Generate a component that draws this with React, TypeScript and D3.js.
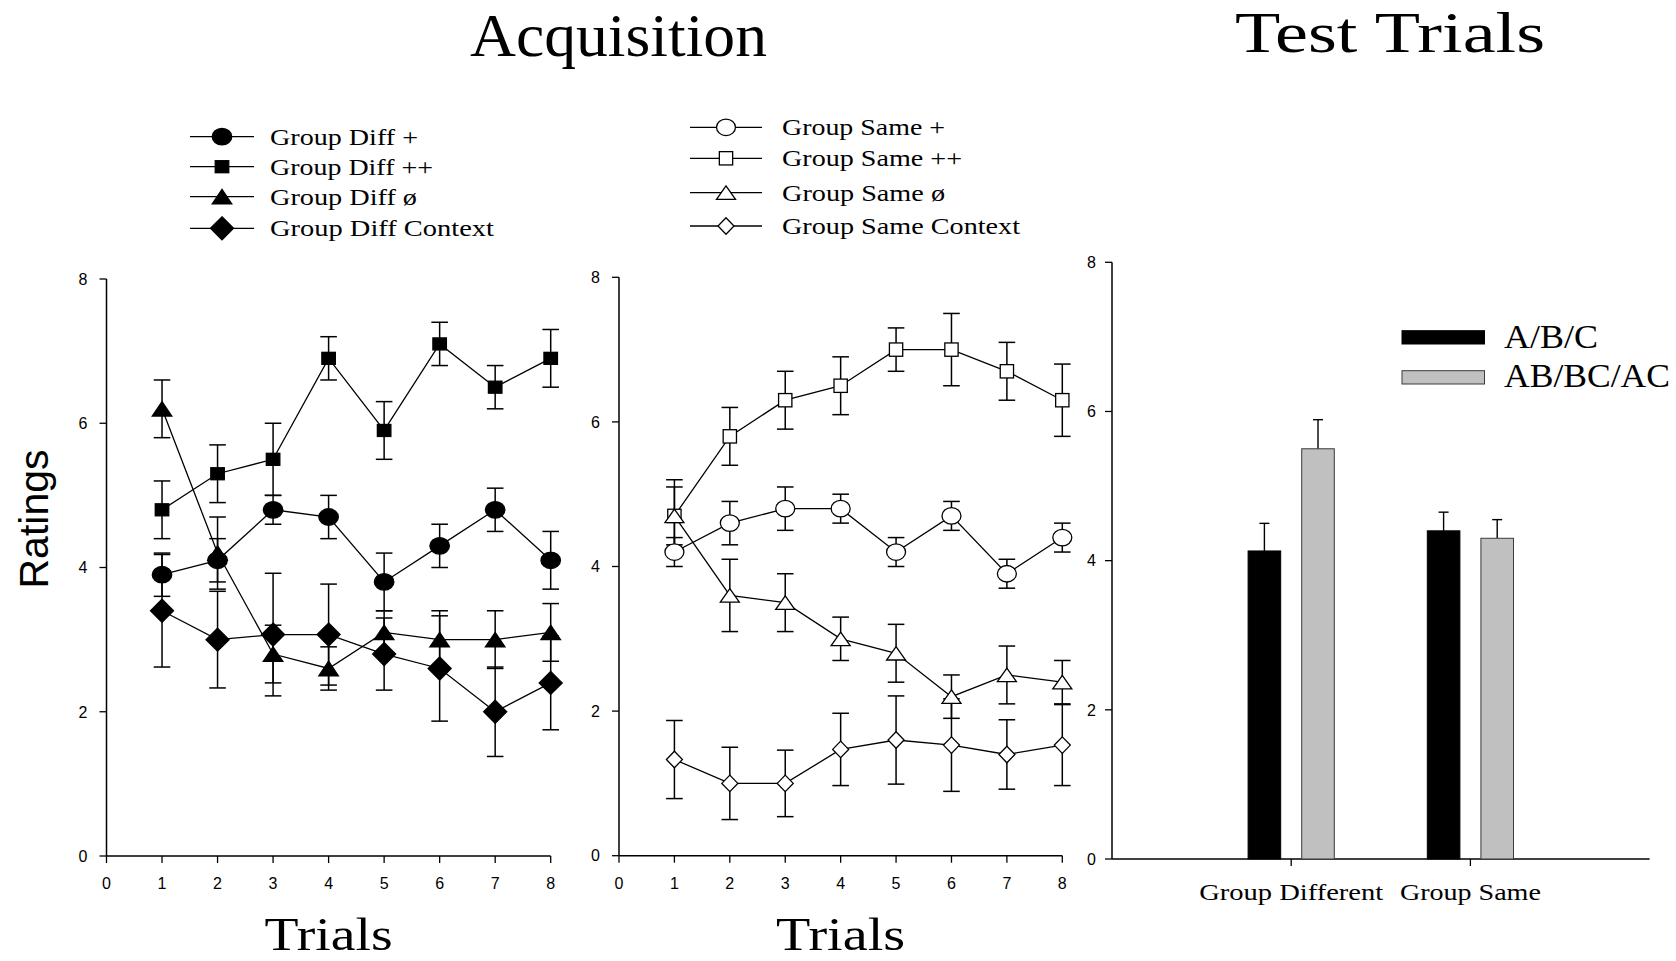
import React from 'react'
import * as d3 from 'd3'

// ---- data ----
const trials = [1, 2, 3, 4, 5, 6, 7, 8]
const trialTicks = [0, 1, 2, 3, 4, 5, 6, 7, 8]
const ratingTicks = [0, 2, 4, 6, 8]

const diffPlus = [3.9, 4.1, 4.8, 4.7, 3.8, 4.3, 4.8, 4.1]
const diffPlusErr = [0.3, 0.3, 0.2, 0.3, 0.4, 0.3, 0.3, 0.4]
const diffPlusPlus = [4.8, 5.3, 5.5, 6.9, 5.9, 7.1, 6.5, 6.9]
const diffPlusPlusErr = [0.4, 0.4, 0.5, 0.3, 0.4, 0.3, 0.3, 0.4]
const diffNone = [6.2, 4.2, 2.8, 2.6, 3.1, 3.0, 3.0, 3.1]
const diffNoneErr = [0.4, 0.5, 0.4, 0.3, 0.3, 0.4, 0.4, 0.4]
const diffContext = [3.4, 3.0, 3.07, 3.07, 2.8, 2.6, 2.0, 2.4]
const diffContextErr = [0.78, 0.67, 0.85, 0.7, 0.5, 0.73, 0.62, 0.65]

const samePlus = [4.2, 4.6, 4.8, 4.8, 4.2, 4.7, 3.9, 4.4]
const samePlusErr = [0.2, 0.3, 0.3, 0.2, 0.2, 0.2, 0.2, 0.2]
const samePlusPlus = [4.7, 5.8, 6.3, 6.5, 7.0, 7.0, 6.7, 6.3]
const samePlusPlusErr = [0.4, 0.4, 0.4, 0.4, 0.3, 0.5, 0.4, 0.5]
const sameNone = [4.7, 3.6, 3.5, 3.0, 2.8, 2.2, 2.5, 2.4]
const sameNoneErr = [0.5, 0.5, 0.4, 0.3, 0.4, 0.3, 0.4, 0.3]
const sameContext = [1.33, 1.0, 1.0, 1.47, 1.6, 1.53, 1.4, 1.53]
const sameContextErr = [0.54, 0.5, 0.46, 0.5, 0.61, 0.64, 0.48, 0.56]

const testGroups = ['Group Different', 'Group Same']
const testSeries = ['A/B/C', 'AB/BC/AC']
const testABC = [4.13, 4.4]
const testABCErr = [0.37, 0.25]
const testABBCAC = [5.5, 4.3]
const testABBCACErr = [0.39, 0.25]

const serif = '"Liberation Serif", "Times New Roman", serif'
const sans = '"Liberation Sans", Arial, sans-serif'

const diffSeries = [
  { name: 'Group Diff +', values: diffPlus, errs: diffPlusErr, shape: 'circle' },
  { name: 'Group Diff ++', values: diffPlusPlus, errs: diffPlusPlusErr, shape: 'square' },
  { name: 'Group Diff ø', values: diffNone, errs: diffNoneErr, shape: 'triangle' },
  { name: 'Group Diff Context', values: diffContext, errs: diffContextErr, shape: 'diamond' },
]
const sameSeries = [
  { name: 'Group Same +', values: samePlus, errs: samePlusErr, shape: 'circle' },
  { name: 'Group Same ++', values: samePlusPlus, errs: samePlusPlusErr, shape: 'square' },
  { name: 'Group Same ø', values: sameNone, errs: sameNoneErr, shape: 'triangle' },
  { name: 'Group Same Context', values: sameContext, errs: sameContextErr, shape: 'diamond' },
]

// marker sizes [w, h]
const filledSizes = { circle: [19.5, 16.5], square: [13.5, 12], triangle: [19.5, 14.5], diamond: [23, 23] }
const openSizes = { circle: [19, 16.5], square: [13.3, 13.3], triangle: [19, 13.5], diamond: [16, 16.5] }

const Marker = ({ shape, filled, x, y, sizes }) => {
  const [w, h] = sizes[shape]
  const fill = filled ? '#000' : '#fff'
  const common = { fill, stroke: '#000', strokeWidth: 1.3 }
  if (shape === 'circle') return <ellipse cx={x} cy={y} rx={w / 2} ry={h / 2} {...common} />
  if (shape === 'square') return <rect x={x - w / 2} y={y - h / 2} width={w} height={h} {...common} />
  if (shape === 'triangle')
    return <path d={`M${x},${y - h / 2}L${x + w / 2},${y + h / 2}L${x - w / 2},${y + h / 2}Z`} {...common} />
  return <path d={`M${x},${y - h / 2}L${x + w / 2},${y}L${x},${y + h / 2}L${x - w / 2},${y}Z`} {...common} />
}

const LinePanel = ({ x, y, series, filled, sizes }) => {
  const x0 = x(0)
  const y0 = y(0)
  const line = d3.line<number>().x((d, i) => x(trials[i])).y(d => y(d))
  const cap = 8.3
  return (
    <g>
      {/* axes */}
      <line x1={x0} x2={x0} y1={y(8)} y2={y0} stroke="#000" strokeWidth={1.5} />
      <line x1={x0} x2={x(8)} y1={y0} y2={y0} stroke="#000" strokeWidth={1.5} />
      {ratingTicks.map(t => (
        <g key={'y' + t}>
          <line x1={x0 - 7} x2={x0} y1={y(t)} y2={y(t)} stroke="#000" strokeWidth={1.3} />
          <text x={x0 - 19} y={y(t)} dy="0.36em" textAnchor="end" fontFamily={sans} fontSize={16}>{t}</text>
        </g>
      ))}
      {trialTicks.map(t => (
        <g key={'x' + t}>
          <line x1={x(t)} x2={x(t)} y1={y0} y2={y0 + 7} stroke="#000" strokeWidth={1.3} />
          <text x={x(t)} y={y0 + 33} textAnchor="middle" fontFamily={sans} fontSize={16}>{t}</text>
        </g>
      ))}
      {series.map(s => (
        <g key={s.name}>
          <path d={line(s.values)} fill="none" stroke="#000" strokeWidth={1.3} />
          {s.values.map((v, i) => {
            const cx = x(trials[i])
            const hi = y(v + s.errs[i])
            const lo = y(v - s.errs[i])
            return (
              <g key={i} stroke="#000" strokeWidth={1.5}>
                <line x1={cx} x2={cx} y1={hi} y2={lo} />
                <line x1={cx - cap} x2={cx + cap} y1={hi} y2={hi} />
                <line x1={cx - cap} x2={cx + cap} y1={lo} y2={lo} />
              </g>
            )
          })}
        </g>
      ))}
      {series.map(s => (
        <g key={s.name + 'm'}>
          {s.values.map((v, i) => (
            <Marker key={i} shape={s.shape} filled={filled} x={x(trials[i])} y={y(v)} sizes={sizes} />
          ))}
        </g>
      ))}
    </g>
  )
}

const Legend = ({ series, filled, sizes, x1, x2, textX, rows, lengths }) => (
  <g>
    {series.map((s, i) => (
      <g key={s.name}>
        <line x1={x1} x2={x2} y1={rows[i]} y2={rows[i]} stroke="#000" strokeWidth={1.3} />
        <Marker shape={s.shape} filled={filled} x={(x1 + x2) / 2} y={rows[i]} sizes={sizes} />
        <text x={textX} y={rows[i] + 8} fontFamily={serif} fontSize={23.5} textLength={lengths[i]}
          lengthAdjust="spacingAndGlyphs">{s.name}</text>
      </g>
    ))}
  </g>
)

export default function App() {
  const xL = d3.scaleLinear().domain([0, 8]).range([106.5, 550.7])
  const yL = d3.scaleLinear().domain([0, 8]).range([856, 279])
  const xM = d3.scaleLinear().domain([0, 8]).range([619, 1062.3])
  const yM = d3.scaleLinear().domain([0, 8]).range([855.7, 277.3])

  // test trials bar chart
  const xR = d3.scaleLinear().domain([0, 3]).range([1112, 1649.6])
  const inner = d3.scaleBand().domain(testSeries).range([-43.1, 43.1]).paddingInner(0.392).paddingOuter(0)
  const yR = d3.scaleLinear().domain([0, 8]).range([859, 262.3])
  const barVals = [testABC, testABBCAC]
  const barErrs = [testABCErr, testABBCACErr]
  const barFill = ['#000', '#c0c0c0']
  const barStroke = ['#000', '#3a3a3a']

  return (
    <svg width={1676} height={961} style={{ position: 'absolute', left: 0, top: 0, background: '#fff' }}>
      <rect width={1676} height={961} fill="#fff" />
      <text x={470} y={56} fontFamily={serif} fontSize={62} textLength={297}
        lengthAdjust="spacingAndGlyphs">Acquisition</text>
      <text x={1235} y={52} fontFamily={serif} fontSize={58} textLength={310}
        lengthAdjust="spacingAndGlyphs">Test Trials</text>

      <Legend series={diffSeries} filled sizes={filledSizes} x1={190} x2={254} textX={270}
        rows={[136.7, 166.7, 196.7, 228.3]} lengths={[148, 163, 147, 224]} />
      <Legend series={sameSeries} filled={false} sizes={openSizes} x1={690} x2={762} textX={782}
        rows={[127.3, 158.3, 192.7, 226]} lengths={[163, 180, 163, 238]} />

      <LinePanel x={xL} y={yL} series={diffSeries} filled sizes={filledSizes} />
      <LinePanel x={xM} y={yM} series={sameSeries} filled={false} sizes={openSizes} />

      <text transform="translate(48,519) rotate(-90)" textAnchor="middle" fontFamily={sans} fontSize={41}>Ratings</text>
      <text x={328.6} y={950} textAnchor="middle" fontFamily={serif} fontSize={46} textLength={128}
        lengthAdjust="spacingAndGlyphs">Trials</text>
      <text x={840.6} y={950} textAnchor="middle" fontFamily={serif} fontSize={46} textLength={129}
        lengthAdjust="spacingAndGlyphs">Trials</text>

      {/* Test trials panel */}
      <g>
        <line x1={xR(0)} x2={xR(0)} y1={yR(8)} y2={yR(0)} stroke="#000" strokeWidth={1.5} />
        <line x1={xR(0)} x2={xR(3)} y1={yR(0)} y2={yR(0)} stroke="#000" strokeWidth={1.5} />
        {ratingTicks.map(t => (
          <g key={t}>
            <line x1={xR(0) - 7} x2={xR(0)} y1={yR(t)} y2={yR(t)} stroke="#000" strokeWidth={1.3} />
            <text x={xR(0) - 16} y={yR(t)} dy="0.36em" textAnchor="end" fontFamily={sans} fontSize={16}>{t}</text>
          </g>
        ))}
        {testGroups.map((g, gi) => {
          const gx = xR(gi + 1)
          return (
            <g key={g}>
              <line x1={gx} x2={gx} y1={yR(0)} y2={yR(0) + 7} stroke="#000" strokeWidth={1.3} />
              <text x={gx} y={900} textAnchor="middle" fontFamily={serif} fontSize={24}
                textLength={gi === 0 ? 184 : 141} lengthAdjust="spacingAndGlyphs">{g}</text>
              {testSeries.map((s, si) => {
                const bx = gx + inner(s)
                const bw = inner.bandwidth()
                const v = barVals[si][gi]
                const top = yR(v + barErrs[si][gi])
                return (
                  <g key={s}>
                    <line x1={bx + bw / 2} x2={bx + bw / 2} y1={yR(v)} y2={top} stroke="#000" strokeWidth={1.4} />
                    <line x1={bx + bw / 2 - 5} x2={bx + bw / 2 + 5} y1={top} y2={top} stroke="#000" strokeWidth={1.4} />
                    <rect x={bx} y={yR(v)} width={bw} height={yR(0) - yR(v)} fill={barFill[si]} stroke={barStroke[si]} strokeWidth={1} />
                  </g>
                )
              })}
            </g>
          )
        })}
        {testSeries.map((s, si) => (
          <g key={s}>
            <rect x={1402} y={si === 0 ? 330.7 : 370.7} width={82.5} height={13.3} fill={barFill[si]} stroke={barStroke[si]} strokeWidth={1} />
            <text x={1504} y={si === 0 ? 348.3 : 387.3} fontFamily={serif} fontSize={33}
              textLength={si === 0 ? 94 : 166} lengthAdjust="spacingAndGlyphs">{s}</text>
          </g>
        ))}
      </g>
    </svg>
  )
}
